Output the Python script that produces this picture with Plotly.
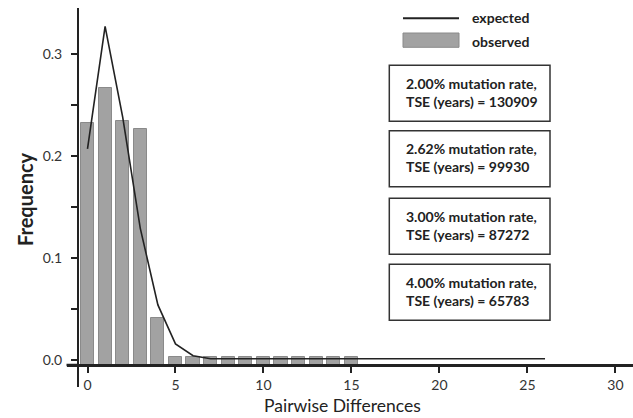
import plotly.graph_objects as go

# ---- data ----
diffs_obs = list(range(0, 16))
observed = [0.2326, 0.267, 0.2346, 0.2268, 0.0409,
            0.0028, 0.0028, 0.0028, 0.0028, 0.0028, 0.0028,
            0.0028, 0.0028, 0.0028, 0.0028, 0.0028]
diffs_exp = list(range(0, 27))
expected = [0.207, 0.327, 0.238, 0.129, 0.054, 0.0157, 0.0042] + [0.0012] * 20
x_ticks = [0, 5, 10, 15, 20, 25, 30]
y_ticks = [0.0, 0.05, 0.1, 0.15, 0.2, 0.25, 0.3]
y_ticktext = ["0.0", "", "0.1", "", "0.2", "", "0.3"]
boxes = [("2.00% mutation rate,", "TSE (years) = 130909"),
         ("2.62% mutation rate,", "TSE (years) = 99930"),
         ("3.00% mutation rate,", "TSE (years) = 87272"),
         ("4.00% mutation rate,", "TSE (years) = 65783")]

W, H = 633, 418
L, R, T, B = 67, 0, 8, 31
PW, PH = W - L - R, H - T - B


def px(x):
    return (x - L) / PW


def py(y):
    return (H - B - y) / PH


AXIS_Y = -0.0049
FONT = "Lato"
DARK = "#222222"

fig = go.Figure()
fig.add_trace(go.Bar(
    x=diffs_obs, y=[v - AXIS_Y for v in observed], base=AXIS_Y,
    width=0.75, marker=dict(color="#a2a2a2", line=dict(color="#8a8a8a", width=1)),
    name="observed", showlegend=False))
fig.add_trace(go.Scatter(
    x=diffs_exp, y=expected, mode="lines",
    line=dict(color=DARK, width=1.6), name="expected", showlegend=False))

shapes = []
annotations = []

# legend
shapes.append(dict(type="line", xref="paper", yref="paper",
                   x0=px(403), x1=px(459), y0=py(18.3), y1=py(18.3),
                   line=dict(color=DARK, width=2)))
shapes.append(dict(type="rect", xref="paper", yref="paper",
                   x0=px(403), x1=px(459), y0=py(33), y1=py(47.3),
                   fillcolor="#a2a2a2", line=dict(color="#8a8a8a", width=1)))
for txt, yy in [("expected", 17), ("observed", 41)]:
    annotations.append(dict(text=txt, xref="paper", yref="paper",
                            x=px(470), y=py(yy), xanchor="left", yanchor="middle",
                            showarrow=False,
                            font=dict(family=FONT, size=14, color=DARK, weight="bold")))

# boxes
box_tops = [65.3, 130.7, 198.3, 264.3]
for (l1, l2), top in zip(boxes, box_tops):
    shapes.append(dict(type="rect", xref="paper", yref="paper",
                       x0=px(389.3), x1=px(550), y0=py(top), y1=py(top + 56),
                       line=dict(color="#333333", width=1.5)))
    for txt, off in [(l1, 18), (l2, 36)]:
        annotations.append(dict(text=txt, xref="paper", yref="paper",
                                x=px(404), y=py(top + off), xanchor="left", yanchor="middle",
                                showarrow=False,
                                font=dict(family=FONT, size=14, color=DARK, weight="bold")))

# x-axis line extension to the left of the y axis
shapes.append(dict(type="line", xref="paper", yref="paper",
                   x0=px(66.5), x1=px(79), y0=py(365), y1=py(365),
                   line=dict(color=DARK, width=2.5)))

annotations.append(dict(text="Pairwise Differences", xref="paper", yref="paper",
                        x=px(342), y=py(405), xanchor="center", yanchor="middle",
                        showarrow=False, font=dict(family=FONT, size=17.5, color=DARK)))
annotations.append(dict(text="Frequency", xref="paper", yref="paper",
                        x=px(25), y=py(199), xanchor="center", yanchor="middle",
                        textangle=-90, showarrow=False,
                        font=dict(family=FONT, size=20, color=DARK, weight="bold")))

fig.update_layout(
    width=W, height=H, margin=dict(l=L, r=R, t=T, b=B),
    plot_bgcolor="white", paper_bgcolor="white",
    showlegend=False, bargap=0,
    shapes=shapes, annotations=annotations,
    xaxis=dict(range=[-1.165, 31.0], anchor="free", position=(H - B - 365) / PH,
               showline=True, linewidth=2.5, linecolor=DARK,
               ticks="outside", ticklen=6, tickwidth=1.5, tickcolor=DARK,
               tickvals=x_ticks, showgrid=False, zeroline=False,
               tickfont=dict(family=FONT, size=14, color="#333333")),
    yaxis=dict(range=[-0.0265, 0.345], anchor="free", position=(78 - L) / PW,
               showline=True, linewidth=2, linecolor=DARK,
               ticks="outside", ticklen=6, tickwidth=1.5, tickcolor=DARK,
               ticklabelstandoff=6,
               tickvals=y_ticks, ticktext=y_ticktext, showgrid=False, zeroline=False,
               tickfont=dict(family=FONT, size=14, color="#333333")),
)

fig.write_html("out.html")
